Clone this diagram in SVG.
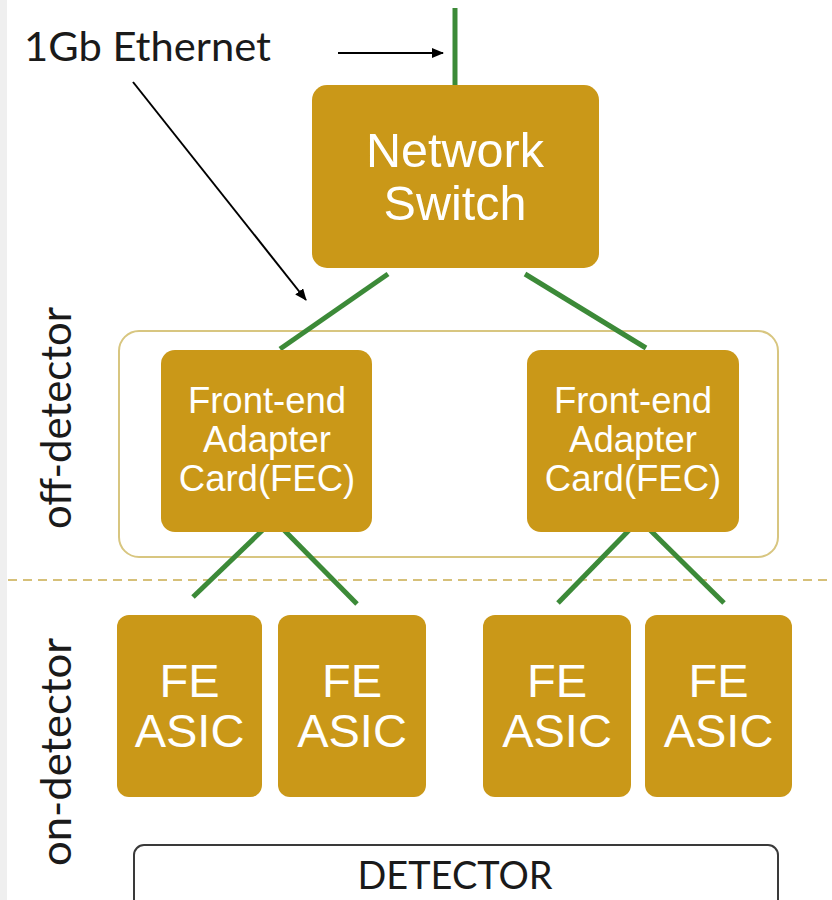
<svg xmlns="http://www.w3.org/2000/svg" width="832" height="900" viewBox="0 0 832 900">
<style>
.box{fill:#CA9818;}
.wt{fill:#ffffff;font-family:"Liberation Sans",Arial,sans-serif;text-anchor:middle;}
.lbl{fill:#1a1a1a;font-family:Lato,"Open Sans",sans-serif;}
.link{stroke:#3C8A38;stroke-width:5;fill:none;}
.ptr{stroke:#000;stroke-width:2;fill:none;marker-end:url(#ah);}
</style>
<defs>
<marker id="ah" viewBox="0 0 12 10" refX="11" refY="5" markerWidth="12" markerHeight="10" markerUnits="userSpaceOnUse" orient="auto">
<path d="M0,0 L12,5 L0,10 Z" fill="#000"/>
</marker>
</defs>
<rect x="0" y="0" width="832" height="900" fill="#ffffff"/>
<rect x="0" y="0" width="7" height="900" fill="#efefef"/>

<g id="labels">
<text class="lbl" x="24" y="61" font-size="41" textLength="247" lengthAdjust="spacingAndGlyphs">1Gb Ethernet</text>
<text class="lbl" font-size="42" text-anchor="middle" textLength="222" lengthAdjust="spacingAndGlyphs" transform="translate(71,418) rotate(-90)">off-detector</text>
<text class="lbl" font-size="42" text-anchor="middle" textLength="228" lengthAdjust="spacingAndGlyphs" transform="translate(71,752) rotate(-90)">on-detector</text>
</g>

<g id="offdetector-region">
<rect x="119" y="331" width="659" height="226" rx="20" fill="none" stroke="#D8C680" stroke-width="2"/>
<line x1="8" y1="580" x2="832" y2="580" stroke="#C9AC4E" stroke-width="1.5" stroke-dasharray="9,6"/>
</g>

<g id="connectors">
<line class="link" x1="455" y1="8" x2="455" y2="88"/>
<line class="link" x1="388" y1="274" x2="280" y2="349"/>
<line class="link" x1="525" y1="274" x2="646" y2="348"/>
<line class="link" x1="271" y1="522" x2="193" y2="597"/>
<line class="link" x1="281" y1="527" x2="357" y2="604"/>
<line class="link" x1="637" y1="522" x2="558" y2="603"/>
<line class="link" x1="647" y1="527" x2="724" y2="603"/>
<line class="ptr" x1="338" y1="53" x2="443" y2="53"/>
<line class="ptr" x1="133" y1="82" x2="306" y2="300"/>
</g>

<g id="network-switch">
<rect class="box" x="312" y="85" width="287" height="183" rx="15"/>
<text class="wt" font-size="48.5"><tspan x="455" y="167">Network</tspan><tspan x="455" y="220">Switch</tspan></text>
</g>

<g id="fec-left">
<rect class="box" x="161" y="350" width="211" height="182" rx="14"/>
<text class="wt" font-size="36.5"><tspan x="267" y="413">Front-end</tspan><tspan x="267" y="452">Adapter</tspan><tspan x="267" y="491">Card(FEC)</tspan></text>
</g>

<g id="fec-right">
<rect class="box" x="527" y="350" width="212" height="182" rx="14"/>
<text class="wt" font-size="36.5"><tspan x="633" y="413">Front-end</tspan><tspan x="633" y="452">Adapter</tspan><tspan x="633" y="491">Card(FEC)</tspan></text>
</g>

<g id="asic-1">
<rect class="box" x="117" y="615" width="145" height="182" rx="12"/>
<text class="wt" font-size="47"><tspan x="189.5" y="697">FE</tspan><tspan x="189.5" y="747">ASIC</tspan></text>
</g>
<g id="asic-2">
<rect class="box" x="278" y="615" width="148" height="182" rx="12"/>
<text class="wt" font-size="47"><tspan x="352" y="697">FE</tspan><tspan x="352" y="747">ASIC</tspan></text>
</g>
<g id="asic-3">
<rect class="box" x="483" y="615" width="148" height="182" rx="12"/>
<text class="wt" font-size="47"><tspan x="557" y="697">FE</tspan><tspan x="557" y="747">ASIC</tspan></text>
</g>
<g id="asic-4">
<rect class="box" x="645" y="615" width="147" height="182" rx="12"/>
<text class="wt" font-size="47"><tspan x="718.5" y="697">FE</tspan><tspan x="718.5" y="747">ASIC</tspan></text>
</g>

<g id="detector">
<rect x="134" y="845" width="644" height="70" rx="10" fill="#ffffff" stroke="#3a3a3a" stroke-width="2"/>
<text class="lbl" x="455" y="889" font-size="38" text-anchor="middle" textLength="195" lengthAdjust="spacingAndGlyphs">DETECTOR</text>
</g>
</svg>
